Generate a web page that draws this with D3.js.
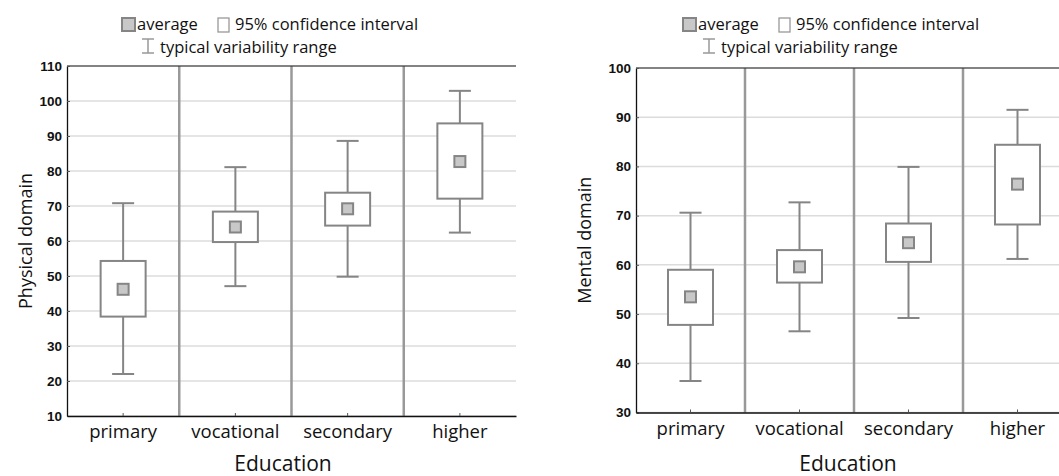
<!DOCTYPE html>
<html>
<head>
<meta charset="utf-8">
<script src="https://cdn.jsdelivr.net/npm/d3@7"></script>
<style>
  body { margin: 0; background: #fff; }
</style>
</head>
<body>
<svg id="chart"></svg>
<script>
// categories on the x axis
const categories = ['primary', 'vocational', 'secondary', 'higher'];

// physical domain
const physicalMean = [46.2, 64.0, 69.2, 82.7];
const physicalCiLow = [38.4, 59.7, 64.4, 72.1];
const physicalCiHigh = [54.3, 68.4, 73.8, 93.6];
const physicalRangeLow = [22.0, 47.1, 49.8, 62.4];
const physicalRangeHigh = [70.8, 81.1, 88.6, 102.9];
const physicalTicks = [10, 20, 30, 40, 50, 60, 70, 80, 90, 100, 110];

// mental domain
const mentalMean = [53.5, 59.6, 64.5, 76.4];
const mentalCiLow = [47.8, 56.4, 60.6, 68.2];
const mentalCiHigh = [59.0, 63.0, 68.4, 84.4];
const mentalRangeLow = [36.4, 46.5, 49.2, 61.2];
const mentalRangeHigh = [70.6, 72.7, 79.9, 91.5];
const mentalTicks = [30, 40, 50, 60, 70, 80, 90, 100];

const W = 1059;
const H = 476;
const gray = '#858585';
const textFont = "'Open Sans', 'Noto Sans', sans-serif";
const numFont = "Arial, 'Liberation Sans', sans-serif";

const svg = d3.select('#chart').attr('width', W).attr('height', H);

const panels = [
  {
    left: 67, right: 516, top: 66, bottom: 416,
    domain: [10, 110], ticks: physicalTicks, yLabel: 'Physical domain', yLabelX: 26,
    xLabelX: 283, legendX: 121,
    mean: physicalMean, ciLow: physicalCiLow, ciHigh: physicalCiHigh,
    lo: physicalRangeLow, hi: physicalRangeHigh,
  },
  {
    left: 636, right: 1072, top: 68, bottom: 412.5,
    domain: [30, 100], ticks: mentalTicks, yLabel: 'Mental domain', yLabelX: 585,
    xLabelX: 848, legendX: 682,
    mean: mentalMean, ciLow: mentalCiLow, ciHigh: mentalCiHigh,
    lo: mentalRangeLow, hi: mentalRangeHigh,
  },
];

const label = (sel, size) => sel
  .style('font-family', textFont)
  .style('font-size', `${size}px`)
  .attr('fill', '#111');

const drawPanel = (p) => {
  const g = svg.append('g');
  const x = d3.scaleBand().domain(categories).range([p.left, p.right]);
  const y = d3.scaleLinear().domain(p.domain).range([p.bottom, p.top]);
  const rows = categories.map((c, i) => ({
    cat: c, mean: p.mean[i], ciLow: p.ciLow[i], ciHigh: p.ciHigh[i], lo: p.lo[i], hi: p.hi[i],
  }));

  // horizontal gridlines
  g.append('g').selectAll('line')
    .data(p.ticks)
    .join('line')
    .attr('x1', p.left).attr('x2', p.right)
    .attr('y1', (d) => y(d)).attr('y2', (d) => y(d))
    .attr('stroke', '#dcdcdc')
    .attr('stroke-width', 1.5);

  // vertical separators between categories
  g.append('g').selectAll('line')
    .data(categories.slice(1))
    .join('line')
    .attr('x1', (d) => x(d)).attr('x2', (d) => x(d))
    .attr('y1', p.top).attr('y2', p.bottom)
    .attr('stroke', '#999')
    .attr('stroke-width', 2.5);

  // top frame line
  g.append('line')
    .attr('x1', p.left).attr('x2', p.right)
    .attr('y1', p.top).attr('y2', p.top)
    .attr('stroke', '#222')
    .attr('stroke-width', 1.2);

  const cx = (d) => x(d.cat) + x.bandwidth() / 2;
  const capW = 22;
  const boxW = 45;
  const meanS = 11;

  // whiskers (typical variability range)
  const wg = g.append('g').attr('stroke', gray).attr('stroke-width', 2).attr('fill', 'none');
  wg.selectAll('.stem-hi').data(rows).join('line')
    .attr('x1', cx).attr('x2', cx)
    .attr('y1', (d) => y(d.hi)).attr('y2', (d) => y(d.ciHigh));
  wg.selectAll('.stem-lo').data(rows).join('line')
    .attr('x1', cx).attr('x2', cx)
    .attr('y1', (d) => y(d.lo)).attr('y2', (d) => y(d.ciLow));
  wg.selectAll('.cap-hi').data(rows).join('line')
    .attr('x1', (d) => cx(d) - capW / 2).attr('x2', (d) => cx(d) + capW / 2)
    .attr('y1', (d) => y(d.hi)).attr('y2', (d) => y(d.hi));
  wg.selectAll('.cap-lo').data(rows).join('line')
    .attr('x1', (d) => cx(d) - capW / 2).attr('x2', (d) => cx(d) + capW / 2)
    .attr('y1', (d) => y(d.lo)).attr('y2', (d) => y(d.lo));

  // confidence interval boxes
  g.append('g').selectAll('rect').data(rows).join('rect')
    .attr('x', (d) => cx(d) - boxW / 2)
    .attr('y', (d) => y(d.ciHigh))
    .attr('width', boxW)
    .attr('height', (d) => y(d.ciLow) - y(d.ciHigh))
    .attr('fill', '#fff')
    .attr('stroke', gray)
    .attr('stroke-width', 2);

  // means
  g.append('g').selectAll('rect').data(rows).join('rect')
    .attr('x', (d) => cx(d) - meanS / 2)
    .attr('y', (d) => y(d.mean) - meanS / 2)
    .attr('width', meanS)
    .attr('height', meanS)
    .attr('fill', '#c8c8c8')
    .attr('stroke', gray)
    .attr('stroke-width', 2);

  // axes
  const yAxis = d3.axisLeft(y).tickValues(p.ticks).tickSizeInner(-3).tickSizeOuter(0).tickPadding(5);
  g.append('g')
    .attr('transform', `translate(${p.left},0)`)
    .call(yAxis)
    .call((s) => s.select('.domain').attr('stroke', '#111').attr('stroke-width', 1.3))
    .call((s) => s.selectAll('.tick line').attr('stroke', '#555'))
    .call((s) => s.selectAll('.tick text')
      .style('font-family', numFont)
      .style('font-weight', '700')
      .style('font-size', '13.5px')
      .attr('fill', '#111'));

  const xAxis = d3.axisBottom(x).tickSizeInner(-3).tickSizeOuter(0).tickPadding(9);
  g.append('g')
    .attr('transform', `translate(0,${p.bottom})`)
    .call(xAxis)
    .call((s) => s.select('.domain').attr('stroke', '#111').attr('stroke-width', 1.3))
    .call((s) => s.selectAll('.tick line').attr('stroke', '#555'))
    .call((s) => label(s.selectAll('.tick text'), 18.5));

  // axis titles
  g.append('text')
    .attr('text-anchor', 'middle')
    .attr('x', p.xLabelX)
    .attr('y', 471)
    .call(label, 21)
    .text('Education');

  g.append('text')
    .attr('text-anchor', 'middle')
    .attr('transform', `translate(${p.yLabelX + 6},${(p.top + p.bottom) / 2}) rotate(-90)`)
    .call(label, 18)
    .text(p.yLabel);

  // legend
  const lg = g.append('g').attr('transform', `translate(${p.legendX},0)`);
  lg.append('rect')
    .attr('x', 1).attr('y', 18).attr('width', 13).attr('height', 13)
    .attr('fill', '#c8c8c8').attr('stroke', gray).attr('stroke-width', 2);
  lg.append('text').attr('x', 16).attr('y', 30).call(label, 16.5).text('average');
  lg.append('rect')
    .attr('x', 97).attr('y', 18).attr('width', 11).attr('height', 14)
    .attr('fill', '#fff').attr('stroke', '#999').attr('stroke-width', 1.3);
  lg.append('text').attr('x', 114).attr('y', 30).call(label, 16.5).text('95% confidence interval');
  const ib = lg.append('g').attr('stroke', '#999').attr('stroke-width', 1.5);
  ib.append('line').attr('x1', 27).attr('x2', 27).attr('y1', 39).attr('y2', 53);
  ib.append('line').attr('x1', 21).attr('x2', 33).attr('y1', 39).attr('y2', 39);
  ib.append('line').attr('x1', 21).attr('x2', 33).attr('y1', 53).attr('y2', 53);
  lg.append('text').attr('x', 39).attr('y', 53).call(label, 16.5).text('typical variability range');
};

panels.forEach(drawPanel);
</script>
</body>
</html>
